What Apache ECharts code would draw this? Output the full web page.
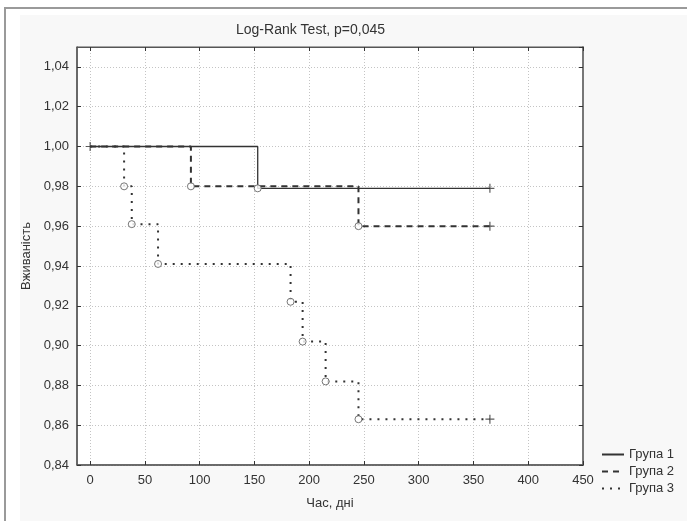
<!DOCTYPE html>
<html>
<head>
<meta charset="utf-8">
<script src="https://cdn.jsdelivr.net/npm/echarts@6/dist/echarts.min.js"></script>
<style>
  html, body { margin: 0; padding: 0; background: #fff; }
  #main { width: 687px; height: 521px; }
</style>
</head>
<body>
<div id="main"></div>
<script>
// Kaplan-Meier data
// ----------
var groupNames = ['Група 1', 'Група 2', 'Група 3']

// time of each step (days); first = start, last = censored end
var group1Time = [0, 153, 365]
var group1Surv = [1.0, 0.979, 0.979]

var group2Time = [0, 92, 245, 365]
var group2Surv = [1.0, 0.98, 0.96, 0.96]

var group3Time = [0, 31, 38, 62, 183, 194, 215, 245, 365]
var group3Surv = [1.0, 0.980, 0.961, 0.941, 0.922, 0.902, 0.882, 0.863, 0.863]

var xTicks = [0, 50, 100, 150, 200, 250, 300, 350, 400, 450]

var FONT = 'Liberation Sans, Arial, sans-serif'
var TEXT = '#333'

function pairs(t, s) {
    var out = []
    for (var i = 0; i < t.length; i++) out.push([t[i], s[i]])
    return out
}

// drops get an open circle
function drops(t, s) {
    var out = []
    for (var i = 1; i < t.length - 1; i++) out.push([t[i], s[i]])
    return out
}

var groups = [
    { name: groupNames[0], t: group1Time, s: group1Surv, dash: 'solid', width: 1.3 },
    { name: groupNames[1], t: group2Time, s: group2Surv, dash: [6, 5], width: 2 },
    { name: groupNames[2], t: group3Time, s: group3Surv, dash: [2, 6], width: 2 }
]

var series = []
groups.forEach(function (g) {
    series.push({
        name: g.name,
        type: 'line',
        step: 'end',
        symbol: 'none',
        data: pairs(g.t, g.s),
        lineStyle: { color: '#333', width: g.width, type: g.dash },
        itemStyle: { color: '#333' },
        z: 3
    })
})

var plus = 'path://M0,5L10,5M5,0L5,10'
var censored = [[group1Time[0], group1Surv[0]]]
groups.forEach(function (g) {
    censored.push([g.t[g.t.length - 1], g.s[g.s.length - 1]])
})
var events = []
groups.forEach(function (g) { events = events.concat(drops(g.t, g.s)) })

series.push({
    type: 'scatter',
    symbol: 'circle',
    symbolSize: 7,
    data: events,
    itemStyle: { color: '#fff', borderColor: '#555', borderWidth: 1 },
    z: 5,
    silent: true
})
series.push({
    type: 'scatter',
    symbol: plus,
    symbolSize: 9,
    data: censored,
    itemStyle: { color: 'transparent', borderColor: '#333', borderWidth: 1.2 },
    z: 5,
    silent: true
})

var chart = echarts.init(document.getElementById('main'))

var option = {
    animation: false,
    textStyle: { fontFamily: FONT },
    graphic: [
        { type: 'rect', shape: { x: 5, y: 8, width: 700, height: 530 },
          style: { fill: '#fff', stroke: '#9a9a9a', lineWidth: 2 }, z: -10 },
        { type: 'rect', shape: { x: 20, y: 15, width: 680, height: 520 },
          style: { fill: '#f8f8f8' }, z: -9 }
    ],
    title: {
        text: 'Log-Rank Test, p=0,045',
        left: 231,
        top: 18,
        textStyle: { fontFamily: FONT, fontSize: 14, fontWeight: 'normal', color: TEXT }
    },
    legend: {
        data: groupNames,
        orient: 'vertical',
        left: 596,
        top: 443,
        itemWidth: 22,
        itemHeight: 10,
        itemGap: 4,
        itemStyle: { opacity: 0 },
        textStyle: { fontFamily: FONT, fontSize: 13, color: TEXT }
    },
    grid: {
        left: 77, top: 47, right: 104, bottom: 56,
        show: true,
        backgroundColor: '#fff',
        borderColor: '#555',
        borderWidth: 1
    },
    xAxis: [{
        type: 'value',
        min: -12,
        max: 450,
        name: 'Час, дні',
        nameLocation: 'middle',
        nameGap: 32,
        nameTextStyle: { fontFamily: FONT, fontSize: 13, color: TEXT },
        axisLine: { onZero: false, lineStyle: { color: '#555', width: 1.5 } },
        axisTick: { inside: true, length: 4, customValues: xTicks, lineStyle: { color: '#333' } },
        axisLabel: { customValues: xTicks, margin: 9, fontFamily: FONT, fontSize: 13, color: TEXT },
        splitLine: { show: true, lineStyle: { color: '#c4c4c4', type: [1, 2] } }
    }, {
        type: 'value',
        position: 'top',
        min: -12,
        max: 450,
        axisLine: { show: true, onZero: false, lineStyle: { color: '#555' } },
        axisTick: { inside: true, length: 4, customValues: xTicks, lineStyle: { color: '#333' } },
        axisLabel: { show: false },
        splitLine: { show: false }
    }],
    yAxis: [{
        type: 'value',
        min: 0.84,
        max: 1.05,
        interval: 0.02,
        name: 'Вживаність',
        nameLocation: 'middle',
        nameGap: 20,
        nameRotate: 90,
        nameTextStyle: { fontFamily: FONT, fontSize: 13, color: TEXT },
        axisLine: { show: true, onZero: false, lineStyle: { color: '#555', width: 1.5 } },
        axisTick: { show: true, inside: true, length: 4, lineStyle: { color: '#333' } },
        axisLabel: {
            showMaxLabel: false,
            margin: 8,
            fontFamily: FONT, fontSize: 13, color: TEXT,
            formatter: function (v) { return v.toFixed(2).replace('.', ',') }
        },
        splitLine: { show: true, lineStyle: { color: '#c4c4c4', type: [1, 2] } }
    }, {
        type: 'value',
        position: 'right',
        min: 0.84,
        max: 1.05,
        interval: 0.02,
        axisLine: { show: true, onZero: false, lineStyle: { color: '#777', width: 2 } },
        axisTick: { show: true, inside: true, length: 4, lineStyle: { color: '#333' } },
        axisLabel: { show: false },
        splitLine: { show: false }
    }],
    series: series
}

chart.setOption(option)
</script>
</body>
</html>
